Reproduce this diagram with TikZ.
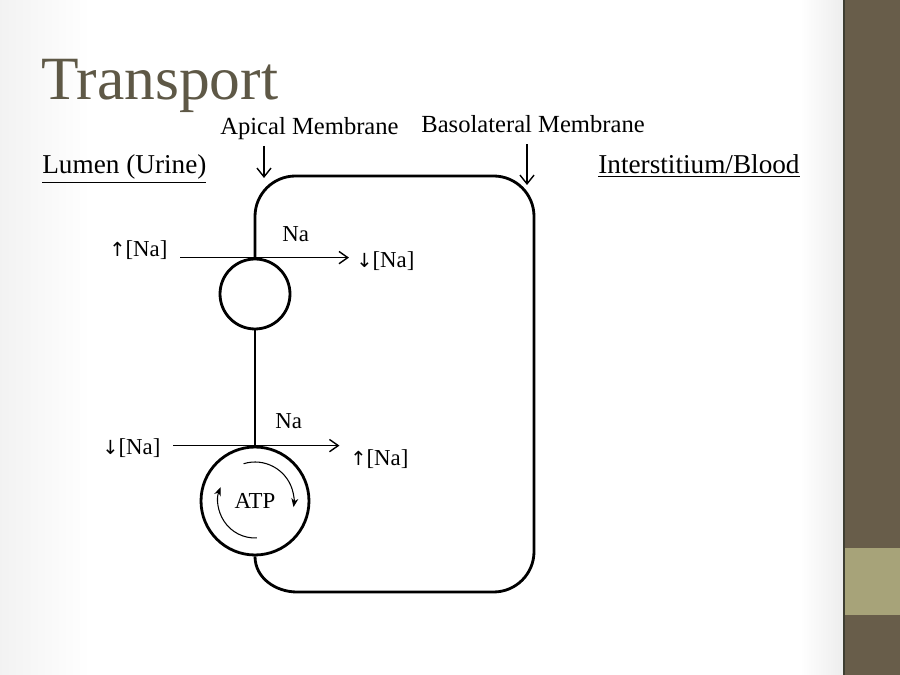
\documentclass[tikz,border=0pt]{standalone}
\usepackage{fontspec}
\setmainfont{Liberation Serif}
\newfontfamily\arrowfont[Scale=0.85]{DejaVu Sans}
\usetikzlibrary{arrows.meta}

\definecolor{titlebrown}{RGB}{94,88,70}
\definecolor{barbrown}{RGB}{104,93,74}
\definecolor{barolive}{RGB}{167,163,121}
\definecolor{baredge}{RGB}{62,62,50}

\newcommand{\upc}{{\arrowfont ↑}}
\newcommand{\dnc}{{\arrowfont ↓}}

\begin{document}
\begin{tikzpicture}[x=0.02cm,y=-0.02cm]

	\tikzset{
	  lbl/.style={inner sep=0pt, anchor=base west, font=\fontsize{14}{16}\selectfont},
	  side/.style={inner sep=0pt, anchor=base west, font=\fontsize{15.5}{18}\selectfont},
	  ion/.style={inner sep=0pt, anchor=base west, font=\fontsize{13}{15}\selectfont},
	  membrane/.style={draw=black, line width=1.6pt},
	  channel/.style={membrane, circle, minimum size=1.4cm, inner sep=0pt},
	  pump/.style={membrane, circle, minimum size=2.16cm, inner sep=0pt, font=\fontsize{13}{15}\selectfont},
	  flux/.style={line width=0.8pt, -{Straight Barb[length=5pt,width=7pt]}},
	  pointer/.style={line width=0.8pt, -{Straight Barb[length=5pt,width=8pt]}},
	  cycle/.style={line width=0.6pt, -{Stealth[length=5pt,width=4pt]}},
	}
	\useasboundingbox (0,0) rectangle (900,675);
	\fill[white] (0,0) rectangle (843,675);
	\shade[left color=black!5, right color=white] (0,0) rectangle (90,675);
	\shade[left color=white, right color=black!7] (800,0) rectangle (843,675);

	% side bar
	\fill[barbrown] (843,0) rectangle (900,675);
	\fill[barolive] (843,548) rectangle (900,615);
	\fill[baredge] (843,0) rectangle (845,675);

	\node[inner sep=0pt, anchor=base west, text=titlebrown, font=\fontsize{35}{40}\selectfont] (title) at (41,100) {Transport};

	\node[lbl] (apical) at (220,135) {Apical Membrane};
	\node[lbl] (baso) at (421,133) {Basolateral Membrane};
	\node[side] (lumen) at (42,174) {\underline{Lumen (Urine)}};
	\node[side] (blood) at (598,174) {\underline{Interstitium/Blood}};

	\coordinate (apitip) at (264,178);
	\coordinate (basotip) at (527,185);
	\draw[pointer, shorten <=3pt] (apitip |- apical.south) -- (apitip);
	\draw[pointer, shorten <=6pt] (basotip |- baso.south) -- (basotip);

	% cell
	\node[channel] (chan) at (255,294) {};
	\node[pump] (pump) at (255,501) {ATP};
	\draw[membrane] (chan.south) -- (pump.north);
	\draw[membrane] (pump.south) to[out=-90,in=180] (297,592)
		{[rounded corners=23pt] -- (534,592) -- (534,176) -- (255,176) -- (chan.north)};

	% passive entry
	\node[ion] (hi1) at (109,257) {\upc[Na]};
	\node[ion] (na1) at (282,242) {Na};
	\node[ion] (lo1) at (356,268) {\dnc[Na]};
	\draw[flux, shorten <=7pt, shorten >=4pt] (hi1.east |- chan.north) -- (lo1.west |- chan.north);

	% pumped exit
	\node[ion] (lo2) at (102,455) {\dnc[Na]};
	\node[ion] (na2) at (275,429) {Na};
	\node[ion] (hi2) at (350,466) {\upc[Na]};
	\draw[flux, shorten <=7pt, shorten >=6pt] (lo2.east |- pump.north) -- (hi2.west |- pump.north);

	\draw[cycle] ([shift={(107:0.78cm)}]pump.center) arc[start angle=107, end angle=-9, radius=0.78cm];
	\draw[cycle] ([shift={(-87:0.74cm)}]pump.center) arc[start angle=-87, end angle=-202, radius=0.74cm];

\end{tikzpicture}
\end{document}
